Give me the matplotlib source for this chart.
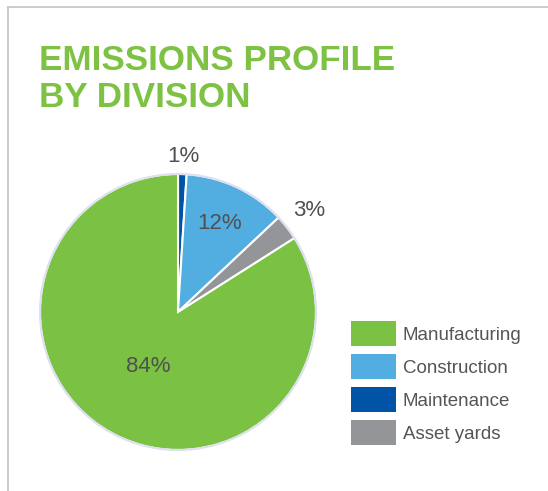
import matplotlib.pyplot as plt
import numpy as np
from matplotlib.lines import Line2D

plt.rcParams['font.family'] = ['Liberation Sans', 'DejaVu Sans']

# data (drawing order: clockwise from 12 o'clock)
divisions = ["Maintenance", "Construction", "Asset yards", "Manufacturing"]
shares = [1, 12, 3, 84]
pct_labels = ["1%", "12%", "3%", "84%"]
colors = ["#0054a6", "#52ade0", "#939598", "#7bc143"]
legend_order = ["Manufacturing", "Construction", "Maintenance", "Asset yards"]
title_lines = ["EMISSIONS PROFILE", "BY DIVISION"]

W, H = 548, 491
fig = plt.figure(figsize=(W / 100, H / 100), dpi=100)

# frame lines (top and left)
fig.add_artist(Line2D([8 / W, 1], [1 - 7 / H, 1 - 7 / H], color="#c8c8c8", lw=1.3))
fig.add_artist(Line2D([8 / W, 8 / W], [0, 1 - 7 / H], color="#c8c8c8", lw=1.3))

for line, base in zip(title_lines, [70, 107]):
    fig.text(39 / W, 1 - base / H, line, color="#7dc242", fontsize=25.2,
             fontweight="bold", va="baseline", ha="left")

# pie axes: centre (178, 312) px, radius 138 px
cx, cy, r = 178, 312, 138
lim = 1.05
ax = fig.add_axes([(cx - r * lim) / W, (H - cy - r * lim) / H, 2 * r * lim / W, 2 * r * lim / H])
wedges, _ = ax.pie(shares, colors=colors, startangle=90, counterclock=False,
                   wedgeprops=dict(edgecolor="white", linewidth=1.5))
ax.add_patch(plt.Circle((0, 0), 1.0, fill=False, edgecolor="#dde0f0", lw=1.5))
ax.set_xlim(-lim, lim)
ax.set_ylim(-lim, lim)
ax.set_aspect("equal")
ax.axis("off")

dists = [1.13, 0.71, 1.2, 0.45]
for w, lab, d in zip(wedges, pct_labels, dists):
    th = np.deg2rad((w.theta1 + w.theta2) / 2)
    ax.text(d * np.cos(th), d * np.sin(th), lab, ha="center", va="center",
            fontsize=16, color="#505050")

handles = [wedges[divisions.index(n)] for n in legend_order]
leg = fig.legend(handles, legend_order, loc="upper left",
                 bbox_to_anchor=(334 / W, 1 - 304 / H), frameon=False,
                 fontsize=13.5, handlelength=2.4, handleheight=1.68,
                 labelspacing=0.43, handletextpad=0.37, labelcolor="#555555")
for p in leg.get_patches():
    p.set_edgecolor("none")

fig.savefig("out.png", dpi=100)
